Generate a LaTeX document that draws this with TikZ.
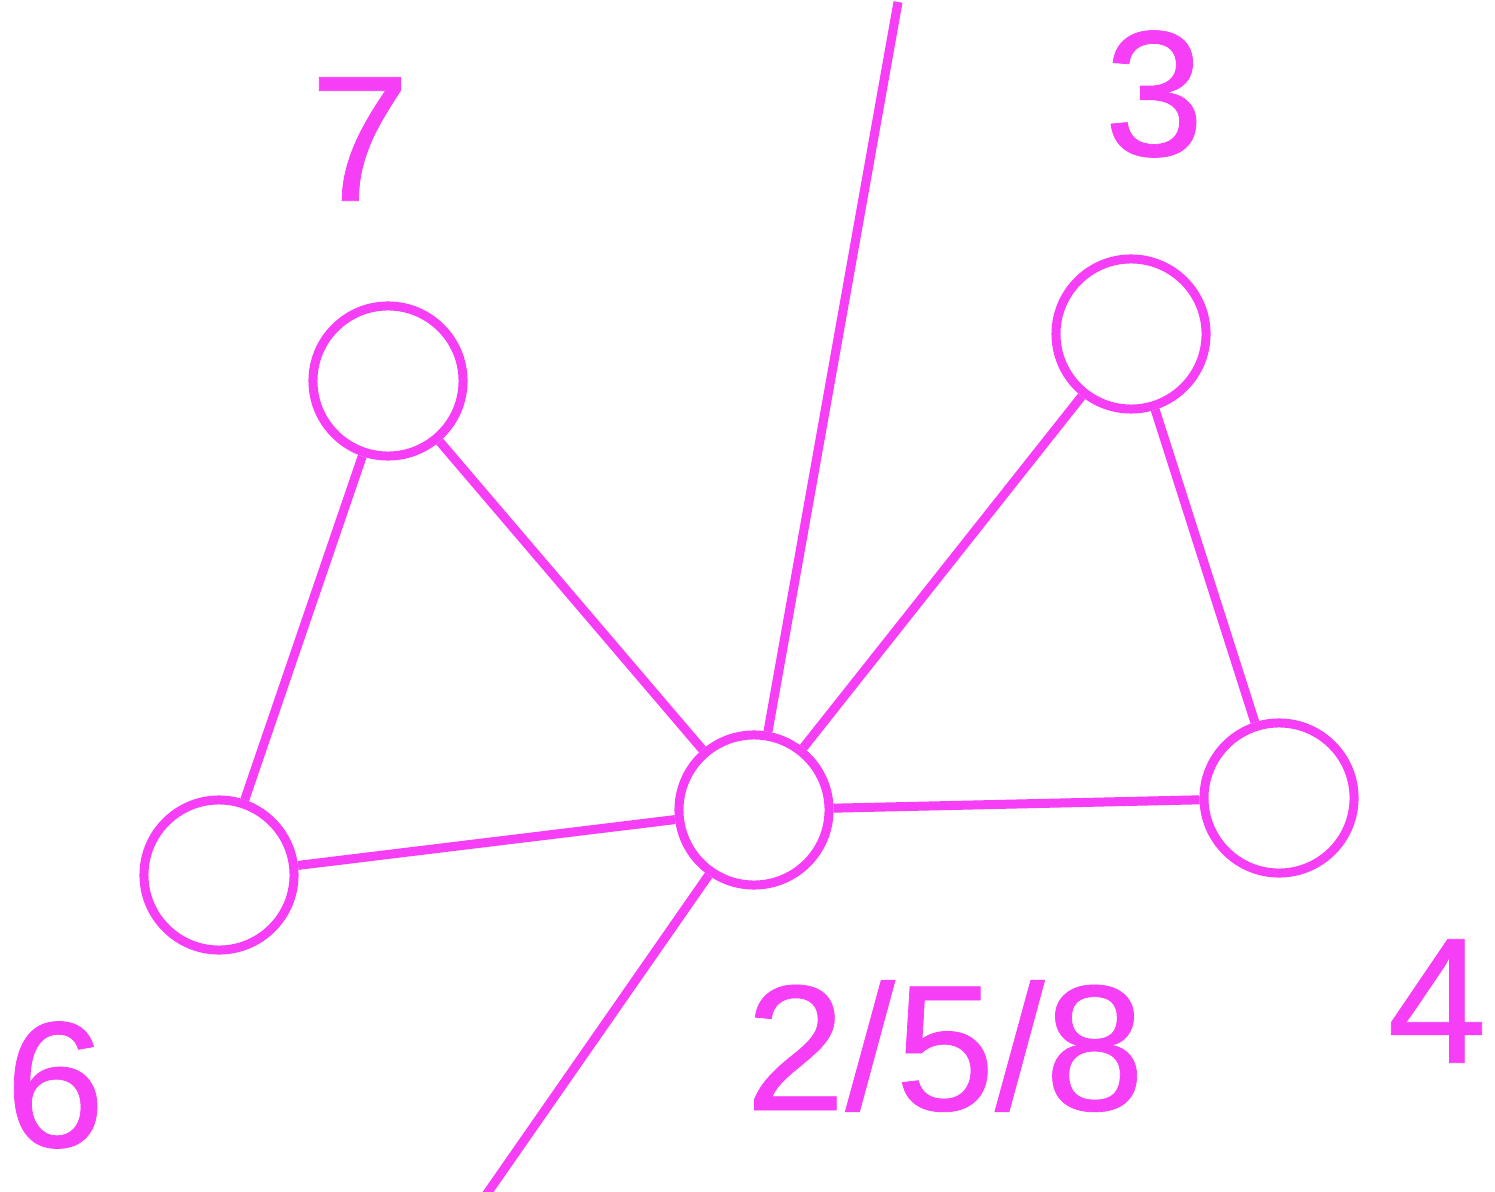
\documentclass[tikz,border=0pt]{standalone}
\usepackage{fontspec}
\setmainfont{Liberation Sans}
\newfontfamily\lblfont[FakeBold=0.4]{Liberation Sans}
\usepackage{xcolor}
\usepackage{tikz}
\usetikzlibrary{positioning}

\definecolor{vmag}{RGB}{245,62,245}

\begin{document}
\begin{tikzpicture}[
      x=0.01cm, y=-0.01cm,
      vertex/.style={draw=vmag, circle, line width=0.09cm, minimum size=1.5cm, inner sep=0pt},
      lbl/.style={text=vmag, inner sep=0pt, font=\lblfont\fontsize{51}{60}\selectfont},
      edge/.style={draw=vmag, line width=0.09cm}
    ]
      \useasboundingbox (0,0) rectangle (1495,1192);
      % vertices
      \node[vertex] (v7) at (388,381) {};
      \node[vertex] (v3) at (1131,334) {};
      \node[vertex] (hub) at (754,810) {};
      \node[vertex] (v6) at (219,875) {};
      \node[vertex] (v4) at (1279,798) {};
      % labels
      \node[lbl] (l7) at (360,139) {7};
      \node[lbl] (l3) at (1154,94) {3};
      \node[lbl] (l6) at (55,1085) {6};
      \node[lbl] (lhub) at (945,1046) {2/5/8};
      \node[lbl] (l4) at (1437,1001) {4};
      % free ends
      \coordinate (up) at (898,2);
      \coordinate (down) at (486,1195);
      % edges
      \draw[edge] (v7) -- (hub);
      \draw[edge] (v7) -- (v6);
      \draw[edge] (v6) -- (hub);
      \draw[edge] (hub) -- (v3);
      \draw[edge] (v3) -- (v4);
      \draw[edge] (hub) -- (v4);
      \draw[edge] (hub) -- (up);
      \draw[edge] (hub) -- (down);
    \end{tikzpicture}
\end{document}
